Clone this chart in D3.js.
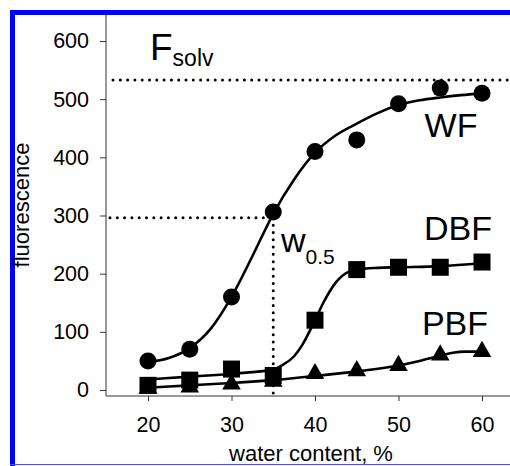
<!DOCTYPE html>
<html>
<head>
<meta charset="utf-8">
<script src="https://cdn.jsdelivr.net/npm/d3@7"></script>
<style>
  body { margin: 0; background: #fff; }
  svg { display: block; font-family: "Liberation Sans", Arial, sans-serif; }
</style>
</head>
<body>
<svg id="chart" width="510" height="466"></svg>
<script>
// Measured fluorescence versus water content
const waterContent = [20, 25, 30, 35, 40, 45, 50, 55, 60];
const wfValues  = [50, 70, 160, 306, 410, 430, 492, 519, 510];
const dbfValues = [8, 17, 36, 25, 120, 207, 211, 211, 220];
const pbfValues = [3, 5, 10, 15, 28, 33, 42, 60, 66];

// Fitted curves, sampled along water content
const wfFitX  = [20, 22.5, 25, 27.5, 30, 32.5, 35, 37.5, 40, 42.5, 45, 47.5, 50, 52.5, 55, 57.5, 60];
const wfFitY  = [48, 55, 72, 105, 160, 230, 303, 362, 408, 438, 458, 476, 490, 498, 503, 507, 510];
const dbfFitX = [20, 25, 30, 35, 36, 37.5, 38.5, 40, 41, 42.5, 44, 45, 47.5, 50, 55, 60];
const dbfFitY = [18, 23, 28, 35, 42, 58, 78, 120, 150, 185, 203, 207, 210, 211, 213, 218];
const pbfFitX = [20, 25, 30, 35, 40, 45, 50, 52.5, 55, 56.5, 58, 60];
const pbfFitY = [4, 8, 12, 17, 24, 32, 42, 50, 59, 64, 66, 66];

const xTicks = [20, 30, 40, 50, 60];
const yTicks = [0, 100, 200, 300, 400, 500, 600];

// Reference levels
const fSolv = 533;      // solvent fluorescence level
const halfLevel = 296;  // half-saturation level
const w05 = 35;         // water content at half level

const svg = d3.select("#chart");

// plot frame
const frame = { left: 106, right: 510, top: 15, bottom: 396 };

const x = d3.scaleLinear().domain([20, 60]).range([148, 482]);
const y = d3.scaleLinear().domain([0, 600]).range([390, 41]);

// blue border
svg.append("rect").attr("x", 10).attr("y", 10).attr("width", 500).attr("height", 5).attr("fill", "#0000ff");
svg.append("rect").attr("x", 10).attr("y", 10).attr("width", 5).attr("height", 456).attr("fill", "#0000ff");
svg.append("line").attr("x1", 10).attr("x2", 510).attr("y1", 464.5).attr("y2", 464.5)
  .attr("stroke", "#4b4bff").attr("stroke-width", 1);

// axes
const yAxis = d3.axisLeft(y).tickValues(yTicks).tickSize(6).tickPadding(11);
const gy = svg.append("g").attr("transform", `translate(${frame.left},0)`).call(yAxis);
gy.select(".domain").remove();
gy.selectAll(".tick line").attr("stroke", "#333");
gy.selectAll(".tick text").attr("font-size", 21.5).attr("fill", "#000")
  .attr("font-family", "Liberation Sans, Arial, sans-serif");

const xAxis = d3.axisBottom(x).tickValues(xTicks).tickSize(5).tickPadding(16);
const gx = svg.append("g").attr("transform", `translate(0,${frame.bottom})`).call(xAxis);
gx.select(".domain").remove();
gx.selectAll(".tick line").attr("stroke", "#333");
gx.selectAll(".tick text").attr("font-size", 21.5).attr("fill", "#000")
  .attr("font-family", "Liberation Sans, Arial, sans-serif");

svg.append("line").attr("x1", frame.left).attr("x2", frame.left)
  .attr("y1", frame.top).attr("y2", frame.bottom).attr("stroke", "#333").attr("stroke-width", 1);
svg.append("line").attr("x1", frame.left).attr("x2", frame.right)
  .attr("y1", frame.bottom).attr("y2", frame.bottom).attr("stroke", "#333").attr("stroke-width", 1);

// axis titles
svg.append("text").attr("transform", "translate(29,205) rotate(-90)")
  .attr("text-anchor", "middle").attr("font-size", 22).text("fluorescence");
svg.append("text").attr("x", 311).attr("y", 461)
  .attr("text-anchor", "middle").attr("font-size", 22).text("water content, %");

// dotted reference lines
const dotted = g => g.attr("stroke", "#000").attr("stroke-width", 3)
  .attr("stroke-linecap", "round").attr("stroke-dasharray", "0,7.3");
svg.append("line").attr("x1", frame.left + 7).attr("x2", frame.right)
  .attr("y1", y(fSolv)).attr("y2", y(fSolv)).call(dotted);
svg.append("line").attr("x1", frame.left + 4).attr("x2", x(w05))
  .attr("y1", y(halfLevel)).attr("y2", y(halfLevel)).call(dotted);
svg.append("line").attr("x1", x(w05)).attr("x2", x(w05))
  .attr("y1", y(halfLevel)).attr("y2", frame.bottom).call(dotted);

// fitted curves
const line = d3.line().x(d => x(d[0])).y(d => y(d[1])).curve(d3.curveMonotoneX);
const fits = [
  d3.zip(wfFitX, wfFitY),
  d3.zip(dbfFitX, dbfFitY),
  d3.zip(pbfFitX, pbfFitY)
];
svg.selectAll("path.fit").data(fits).join("path").attr("class", "fit")
  .attr("d", line).attr("fill", "none").attr("stroke", "#000").attr("stroke-width", 2.6);

// markers
svg.selectAll("path.pbf").data(d3.zip(waterContent, pbfValues)).join("path").attr("class", "pbf")
  .attr("transform", d => `translate(${x(d[0])},${y(d[1])})`)
  .attr("d", d3.symbol(d3.symbolTriangle, 150)).attr("fill", "#000");
svg.selectAll("path.dbf").data(d3.zip(waterContent, dbfValues)).join("path").attr("class", "dbf")
  .attr("transform", d => `translate(${x(d[0])},${y(d[1])})`)
  .attr("d", d3.symbol(d3.symbolSquare, 17 * 17)).attr("fill", "#000");
svg.selectAll("circle.wf").data(d3.zip(waterContent, wfValues)).join("circle").attr("class", "wf")
  .attr("cx", d => x(d[0])).attr("cy", d => y(d[1])).attr("r", 8.5).attr("fill", "#000");

// series labels
const labels = [
  { text: "WF", x: 451, y: 137 },
  { text: "DBF", x: 458, y: 240 },
  { text: "PBF", x: 455, y: 335 }
];
svg.selectAll("text.lab").data(labels).join("text").attr("class", "lab")
  .attr("x", d => d.x).attr("y", d => d.y).attr("text-anchor", "middle")
  .attr("font-size", 34).text(d => d.text);

// F_solv and w_0.5 annotations
const fl = svg.append("text").attr("x", 150).attr("y", 60).attr("font-size", 37);
fl.append("tspan").text("F");
fl.append("tspan").attr("font-size", 23).attr("dy", 6).text("solv");

const wl = svg.append("text").attr("x", 281).attr("y", 252).attr("font-size", 34);
wl.append("tspan").text("w");
wl.append("tspan").attr("font-size", 21).attr("dy", 12).text("0.5");
</script>
</body>
</html>
